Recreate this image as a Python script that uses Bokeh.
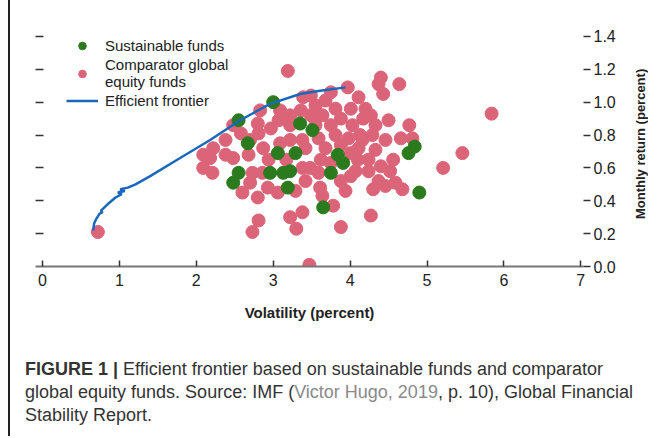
import math
from bokeh.plotting import figure
from bokeh.models import (Range1d, LinearAxis, FixedTicker, Legend, LegendItem,
                          CustomJSTickFormatter, Div)
from bokeh.layouts import column, row
from bokeh.embed import file_html
from bokeh.resources import INLINE

# ---------------- data ----------------
comparator_vol = [0.72, 3.47, 3.19, 3.97, 4.40, 4.37, 4.64, 4.43, 4.11, 4.01, 4.20, 4.27, 4.17, 4.50,
                  4.77, 4.33, 4.29, 4.66, 4.81, 5.84, 5.46, 5.21, 4.56, 4.24, 4.01, 4.10, 4.24, 4.01,
                  4.37, 4.30, 4.46, 4.59, 4.68, 4.27, 3.88, 2.83, 3.09, 3.39, 3.22, 3.07, 2.48, 2.80,
                  3.22, 2.81, 2.70, 2.38, 2.22, 2.87, 3.09, 3.42, 2.09, 2.48, 2.18, 2.09, 2.21, 2.73,
                  2.86, 2.70, 2.93, 2.80, 3.06, 3.29, 3.42, 3.38, 3.59, 3.61, 3.64, 3.78, 2.81, 2.73,
                  3.22, 3.38, 3.30, 3.55, 3.68, 3.81, 3.64, 3.88, 4.03, 3.75, 3.59, 3.81, 3.98, 4.13,
                  3.68, 3.88, 4.11, 3.62, 3.75, 3.48, 4.07, 3.88, 3.94, 3.49, 3.36, 3.55, 3.38, 3.22,
                  2.97, 2.68, 2.94, 3.17, 3.49, 3.75, 4.16, 4.33, 4.46, 4.52, 4.40, 2.58, 2.38, 2.60]
comparator_ret = [0.21, 0.01, 1.19, 1.09, 1.15, 1.11, 1.11, 1.05, 1.03, 0.96, 0.96, 0.92, 0.90, 0.89,
                  0.86, 0.86, 0.80, 0.78, 0.78, 0.93, 0.69, 0.60, 0.65, 0.65, 0.69, 0.65, 0.58, 0.55,
                  0.52, 0.47, 0.49, 0.51, 0.47, 0.31, 0.24, 0.95, 0.95, 1.03, 0.92, 0.89, 0.86, 0.87,
                  0.86, 0.81, 0.77, 0.77, 0.72, 0.72, 0.75, 0.72, 0.68, 0.66, 0.66, 0.60, 0.57, 0.57,
                  0.57, 0.51, 0.48, 0.42, 0.45, 0.46, 0.52, 0.60, 0.57, 0.48, 0.43, 0.37, 0.28, 0.21,
                  0.30, 0.33, 0.23, 0.98, 1.01, 0.96, 0.92, 0.90, 0.86, 0.86, 0.78, 0.80, 0.78, 0.80,
                  0.72, 0.74, 0.72, 0.65, 0.63, 0.60, 0.58, 0.52, 0.46, 0.92, 0.95, 0.86, 0.77, 0.77,
                  0.84, 0.68, 0.65, 0.65, 1.04, 1.06, 0.77, 0.71, 0.77, 0.58, 0.61, 0.81, 0.68, 0.45]

sustainable_vol = [3.00, 2.55, 3.35, 3.51, 2.67, 3.06, 3.29, 3.84, 3.91, 2.55, 2.48, 2.96, 3.13, 3.22,
                   3.19, 3.65, 3.75, 4.76, 4.84, 4.90]
sustainable_ret = [1.00, 0.89, 0.87, 0.83, 0.75, 0.69, 0.69, 0.68, 0.63, 0.57, 0.51, 0.57, 0.57, 0.58,
                   0.48, 0.36, 0.57, 0.69, 0.73, 0.45]

frontier_vol = [0.66, 0.67, 0.70, 0.74, 0.78, 0.76, 0.85, 0.95, 1.03, 0.98, 1.07, 1.01, 1.11, 1.21,
                1.40, 1.79, 2.18, 2.57, 2.96, 3.35, 3.61, 3.94]
frontier_ret = [0.22, 0.26, 0.29, 0.32, 0.33, 0.34, 0.38, 0.42, 0.44, 0.45, 0.46, 0.47, 0.48, 0.50,
                0.55, 0.66, 0.77, 0.89, 0.99, 1.05, 1.07, 1.09]

x_ticks = [0, 1, 2, 3, 4, 5, 6, 7]
y_ticks = [0.0, 0.2, 0.4, 0.6, 0.8, 1.0, 1.2, 1.4]

# ---------------- styling ----------------
PINK = "#db6479"
GREEN = "#2c7a1e"
BLUE = "#1a68bd"
TXT = "#222222"
FONT = "Liberation Sans"

p = figure(width=617, height=336, output_backend="svg", toolbar_location=None,
           x_range=Range1d(-0.091, 7.035), y_range=Range1d(0, 1.497),
           x_axis_location=None, y_axis_location=None,
           min_border_left=25, min_border_right=44, min_border_top=20, min_border_bottom=70)
p.outline_line_color = None
p.xgrid.visible = False
p.ygrid.visible = False
p.background_fill_color = "white"
p.border_fill_color = "white"

# bottom axis
xa = LinearAxis(ticker=FixedTicker(ticks=x_ticks), axis_label="Volatility (percent)")
xa.axis_line_color = "#777777"
xa.axis_line_width = 2
xa.major_tick_in = 6
xa.major_tick_out = 0
xa.major_tick_line_color = "#333333"
xa.major_tick_line_width = 1.5
xa.minor_tick_line_color = None
xa.major_label_text_font = FONT
xa.major_label_text_font_size = "16px"
xa.major_label_text_color = TXT
xa.major_label_standoff = 7
xa.axis_label_text_font = FONT
xa.axis_label_text_font_size = "15px"
xa.axis_label_text_font_style = "bold"
xa.axis_label_text_color = TXT
xa.axis_label_standoff = 15
p.add_layout(xa, "below")

# right axis with labels
ra = LinearAxis(ticker=FixedTicker(ticks=y_ticks),
                formatter=CustomJSTickFormatter(code="return tick.toFixed(1)"))
ra.axis_line_color = None
ra.major_tick_in = 0
ra.major_tick_out = 7
ra.major_tick_line_color = "#333333"
ra.major_tick_line_width = 1.5
ra.minor_tick_line_color = None
ra.major_label_text_font = FONT
ra.major_label_text_font_size = "16px"
ra.major_label_text_color = TXT
ra.major_label_standoff = 3
p.add_layout(ra, "right")

# left axis: ticks only
la = LinearAxis(ticker=FixedTicker(ticks=y_ticks[1:]),
                formatter=CustomJSTickFormatter(code="return ''"))
la.axis_line_color = None
la.major_tick_in = 8
la.major_tick_out = 0
la.major_tick_line_color = "#333333"
la.major_tick_line_width = 1.5
la.minor_tick_line_color = None
la.major_label_text_font_size = "0px"
p.add_layout(la, "left")

r_comp = p.scatter(comparator_vol, comparator_ret, size=13, fill_color=PINK, line_color=PINK)
r_sust = p.scatter(sustainable_vol, sustainable_ret, size=13, fill_color=GREEN, line_color=GREEN)
r_line = p.line(frontier_vol, frontier_ret, line_color=BLUE, line_width=2.5)

legend = Legend(items=[
    LegendItem(label="Sustainable funds", renderers=[r_sust]),
    LegendItem(label="Comparator global\nequity funds", renderers=[r_comp]),
    LegendItem(label="Efficient frontier", renderers=[r_line]),
], location=(31, 156))
legend.border_line_color = None
legend.background_fill_alpha = 0
legend.label_text_font = FONT
legend.label_text_font_size = "15px"
legend.label_text_color = TXT
legend.glyph_width = 32
legend.glyph_height = 19
legend.label_height = 19
legend.label_standoff = 7
legend.spacing = 1
legend.padding = 0
legend.margin = 0
p.add_layout(legend, "center")

# right-hand axis title, reading bottom to top
y_title = Div(text="Monthly return (percent)", width=26, height=278,
              styles={"writing-mode": "vertical-rl", "transform": "rotate(180deg)",
                      "text-align": "center", "font-family": FONT, "font-size": "13px",
                      "font-weight": "bold", "color": TXT, "white-space": "nowrap"})

caption = Div(
    text=('<b>FIGURE 1 |</b> Efficient frontier based on sustainable funds and comparator '
          'global equity funds. Source: IMF (<span style="color:#8a8a8a">Victor Hugo, 2019</span>, '
          'p. 10), Global Financial Stability Report.'),
    width=636, height=90,
    styles={"font-family": FONT, "font-size": "18px", "line-height": "23px",
            "color": "#333333", "padding-left": "10px", "padding-top": "17px"})

layout = column(row(p, y_title), caption,
                styles={"margin-left": "8px", "border-left": "2px solid #222222"})

open("out.html", "w").write(file_html(layout, INLINE))
